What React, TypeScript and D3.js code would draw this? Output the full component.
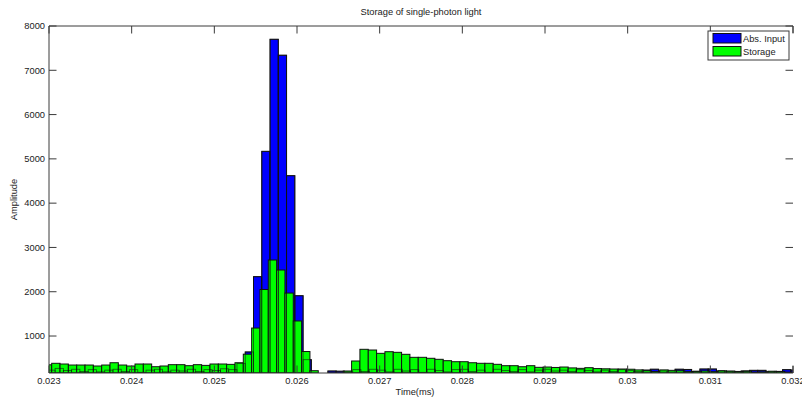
import React from 'react';
import * as d3 from 'd3';

const W = 802;
const H = 397;
const PLOT = { left: 49, right: 793, top: 26, bottom: 373 };

const X_DOMAIN: [number, number] = [0.023, 0.032];
const Y_DOMAIN: [number, number] = [165, 8000];

const xTicks = [0.023, 0.024, 0.025, 0.026, 0.027, 0.028, 0.029, 0.03, 0.031, 0.032];
const xTickLabels = ['0.023', '0.024', '0.025', '0.026', '0.027', '0.028', '0.029', '0.03', '0.031', '0.032'];
const yTicks = [1000, 2000, 3000, 4000, 5000, 6000, 7000, 8000];

// Histogram bin layout (first bin centre and bin width, in ms)
const absInputStart = 0.0230238;
const absInputBinWidth = 0.0001;
const storageStart = 0.0229823;
const storageBinWidth = 0.00010077;

// Abs. Input counts per bin
const absInput = [
  230, 270, 220, 250, 200, 240, 190, 230, 250, 200,
  240, 180, 230, 250, 190, 230, 210, 250, 200, 240,
  220, 260, 240, 380, 640, 2340, 5170, 7700, 7340, 4620,
  1910, 465, 150, 140, 210, 205, 190, 240, 200, 250,
  230, 190, 250, 210, 240, 180, 250, 220, 190, 240,
  250, 200, 230, 180, 250, 220, 200, 240, 190, 230,
  250, 210, 230, 200, 240, 220, 190, 230, 200, 240,
  220, 200, 230, 250, 210, 190, 250, 245, 200, 255,
  255, 210, 200, 190, 210, 225, 225, 190, 200, 240,
  230,
];

// Storage counts per bin
const storage = [
  350, 384, 368, 345, 345, 345, 323, 345, 397, 345,
  323, 368, 368, 307, 323, 353, 353, 330, 353, 337,
  368, 368, 360, 397, 590, 1180, 2050, 2716, 2490, 1970,
  1340, 650, 217, 140, 150, 160, 210, 436, 700, 684,
  609, 646, 632, 587, 519, 519, 497, 474, 443, 420,
  420, 397, 384, 384, 361, 330, 330, 307, 330, 293,
  300, 290, 300, 280, 270, 285, 265, 260, 255, 255,
  250, 235, 215, 200, 235, 225, 215, 195, 205, 210,
  195, 215, 210, 200, 205, 185, 190, 205, 200, 185,
];

const seriesNames = ['Abs. Input', 'Storage'];
const seriesColors = ['#0000ff', '#00ff00'];

const FONT = '"Liberation Sans", Arial, sans-serif';
const AXIS_COLOR = '#3a3a3a';
const TEXT_COLOR = '#222';
const EDGE = '#111';
const TICK_LEN = 7.5;

export default function App() {
  const x = d3.scaleLinear().domain(X_DOMAIN).range([PLOT.left, PLOT.right]);
  const y = d3.scaleLinear().domain(Y_DOMAIN).range([PLOT.bottom, PLOT.top]);

  const bins = (values: number[], start: number, width: number) =>
    values.map((v, i) => {
      const c = start + i * width;
      const x0 = x(c - width / 2);
      const x1 = x(c + width / 2);
      const top = y(Math.max(v, Y_DOMAIN[0]));
      return { x: x0, w: x1 - x0, y: top, h: y(Y_DOMAIN[0]) - top, v };
    }).filter((b) => b.v > Y_DOMAIN[0]);

  const absBars = bins(absInput, absInputStart, absInputBinWidth);
  const storBars = bins(storage, storageStart, storageBinWidth);

  return (
    <svg
      width={W}
      height={H}
      viewBox={`0 0 ${W} ${H}`}
      style={{ position: 'absolute', left: 0, top: 0, background: '#fff' }}
      fontFamily={FONT}
    >
      <defs>
        <clipPath id="plot-clip">
          <rect x={PLOT.left} y={PLOT.top} width={PLOT.right - PLOT.left} height={PLOT.bottom - PLOT.top} />
        </clipPath>
      </defs>

      <g clipPath="url(#plot-clip)">
        {absBars.map((b, i) => (
          <rect key={`a${i}`} x={b.x} y={b.y} width={b.w} height={b.h} fill={seriesColors[0]} stroke={EDGE} strokeWidth={1} />
        ))}
        {storBars.map((b, i) => (
          <rect key={`s${i}`} x={b.x} y={b.y} width={b.w} height={b.h} fill={seriesColors[1]} stroke={EDGE} strokeWidth={1} />
        ))}
        {absBars.map((b, i) => (
          <rect key={`ae${i}`} x={b.x} y={b.y} width={b.w} height={b.h} fill="none" stroke={EDGE} strokeWidth={0.8} strokeOpacity={0.7} />
        ))}
      </g>

      {/* axes frame */}
      <g stroke={AXIS_COLOR} strokeWidth={1} fill="none">
        <line x1={PLOT.left} y1={PLOT.top} x2={PLOT.left} y2={PLOT.bottom} />
        <line x1={PLOT.left} y1={PLOT.bottom} x2={PLOT.right} y2={PLOT.bottom} />
        <line x1={PLOT.left} y1={PLOT.top} x2={PLOT.right} y2={PLOT.top} />
        <line x1={PLOT.right} y1={PLOT.top} x2={PLOT.right} y2={PLOT.top + 7} />
        <line x1={PLOT.right} y1={PLOT.bottom - 7} x2={PLOT.right} y2={PLOT.bottom} />
        {xTicks.map((t) => (
          <g key={`xt${t}`}>
            <line x1={x(t)} x2={x(t)} y1={PLOT.bottom} y2={PLOT.bottom - TICK_LEN} />
            <line x1={x(t)} x2={x(t)} y1={PLOT.top} y2={PLOT.top + TICK_LEN} />
          </g>
        ))}
        {yTicks.map((t) => (
          <g key={`yt${t}`}>
            <line x1={PLOT.left} x2={PLOT.left + TICK_LEN} y1={y(t)} y2={y(t)} />
            <line x1={PLOT.right} x2={PLOT.right - TICK_LEN} y1={y(t)} y2={y(t)} />
          </g>
        ))}
      </g>

      {/* tick labels */}
      <g fill={TEXT_COLOR} fontSize={9.3}>
        {xTicks.map((t, i) => (
          <text key={`xl${t}`} x={x(t)} y={PLOT.bottom + 11} textAnchor="middle">{xTickLabels[i]}</text>
        ))}
        {yTicks.map((t) => (
          <text key={`yl${t}`} x={PLOT.left - 4} y={y(t) + 3.3} textAnchor="end">{t}</text>
        ))}
      </g>

      {/* titles */}
      <text x={(PLOT.left + PLOT.right) / 2} y={15} textAnchor="middle" fontSize={9.3} fill={TEXT_COLOR}>
        Storage of single-photon light
      </text>
      <text x={(PLOT.left + PLOT.right) / 2 - 6} y={395} textAnchor="middle" fontSize={9.3} fill={TEXT_COLOR}>
        Time(ms)
      </text>
      <text transform={`translate(17, ${(PLOT.top + PLOT.bottom) / 2}) rotate(-90)`} textAnchor="middle" fontSize={9.3} fill={TEXT_COLOR}>
        Amplitude
      </text>

      {/* legend */}
      <g>
        <rect x={708} y={31} width={81} height={29} fill="#fff" stroke={AXIS_COLOR} strokeWidth={1} />
        {seriesNames.map((name, i) => (
          <g key={name}>
            <rect x={713} y={33.5 + i * 13} width={28} height={9.5} fill={seriesColors[i]} stroke={EDGE} strokeWidth={1} />
            <text x={743} y={41.8 + i * 13} fontSize={9.3} fill={TEXT_COLOR}>{name}</text>
          </g>
        ))}
      </g>
    </svg>
  );
}
